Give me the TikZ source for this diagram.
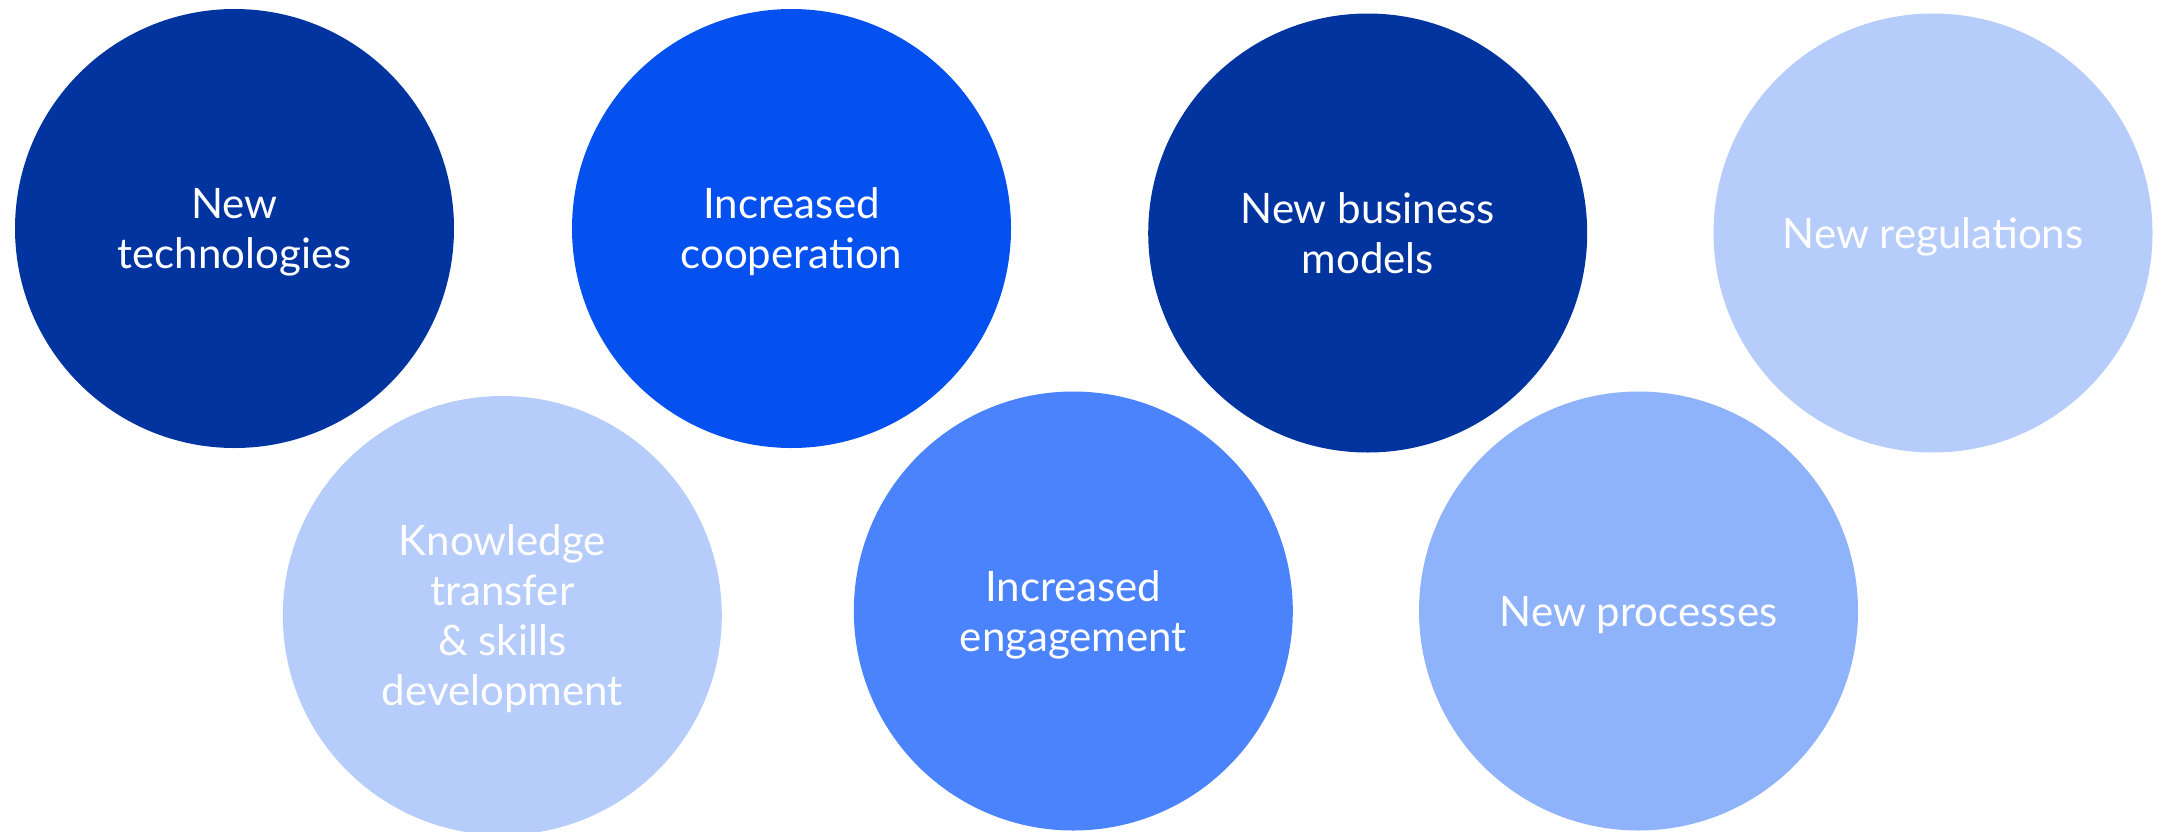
\documentclass[tikz,border=0pt]{standalone}
\usepackage{fontspec}
\setmainfont{Lato}
\definecolor{cdark}{HTML}{0234A0}
\definecolor{cbright}{HTML}{0551EF}
\definecolor{clight}{HTML}{B6CCFB}
\definecolor{cmed}{HTML}{4B83FD}
\definecolor{cpale}{HTML}{8FB3FB}
\tikzset{
  bubble/.style={circle, minimum size=439pt, inner sep=0pt, draw=none,
    align=center, text=white, text depth=0pt,
    font=\fontsize{42pt}{50pt}\selectfont}
}
\begin{document}
\begin{tikzpicture}[x=1pt,y=-1pt]
\useasboundingbox (0,0) rectangle (2167,831);
\clip (0,0) rectangle (2167,831);
\node[bubble, fill=cdark]   (tech) at (234.5,228.5) {New\\technologies};
\node[bubble, fill=cbright] (coop) at (791.5,228.5) {Increased\\cooperation};
\node[bubble, fill=cdark]   (biz)  at (1367.7,233) {New business\\models};
\node[bubble, fill=clight]  (reg)  at (1933,233) {New regulations};
\node[bubble, fill=clight]  (know) at (502.3,615.5) {Knowledge\\transfer\\\& skills\\development};
\node[bubble, fill=cmed]    (eng)  at (1073.3,611) {Increased\\engagement};
\node[bubble, fill=cpale]   (proc) at (1638.5,611) {New processes};
\end{tikzpicture}
\end{document}
